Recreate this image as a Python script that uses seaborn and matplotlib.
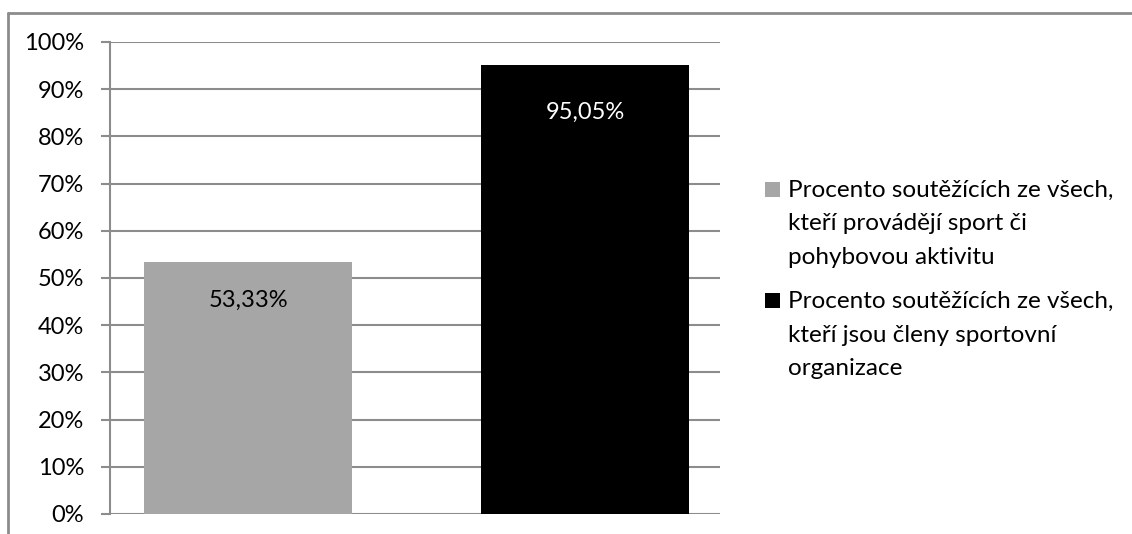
import matplotlib
matplotlib.use("Agg")
import matplotlib.pyplot as plt
from matplotlib.lines import Line2D
from matplotlib.patches import Rectangle
import seaborn as sns
import pandas as pd

series = [
    "Procento soutěžících ze všech,\nkteří provádějí sport či\npohybovou aktivitu",
    "Procento soutěžících ze všech,\nkteří jsou členy sportovní\norganizace",
]
values = [53.33, 95.05]
value_labels = ["53,33%", "95,05%"]
colors = ["#A6A6A6", "#000000"]
label_colors = ["#000000", "#FFFFFF"]
yticks = [0, 10, 20, 30, 40, 50, 60, 70, 80, 90, 100]

sns.set_theme(style="white")
plt.rcParams["font.family"] = ["Lato", "DejaVu Sans"]

W, H = 1132, 534
fig = plt.figure(figsize=(W / 100, H / 100), dpi=100)
ax = fig.add_axes([110 / W, 1 - 514 / H, (720 - 110) / W, (514 - 42) / H])

df = pd.DataFrame({"serie": series, "hodnota": values})
sns.barplot(data=df, x="serie", y="hodnota", hue="serie", palette=colors,
            width=0.617, dodge=False, legend=False, ax=ax, saturation=1,
            edgecolor="none")

grid_c = "#8C8C8C"
ax.set_ylim(0, 100)
ax.set_xlim(-0.4095, 1.4006)
ax.set_yticks(yticks)
ax.set_yticklabels([f"{t}%" for t in yticks], fontsize=17, color="#000000")
ax.set_xticks([])
ax.set_xlabel("")
ax.set_ylabel("")
for t in yticks:
    ax.axhline(t, color=grid_c, lw=1.5, zorder=0)
for s in ["top", "right", "bottom"]:
    ax.spines[s].set_visible(False)
ax.spines["left"].set_color(grid_c)
ax.spines["left"].set_linewidth(1.5)
ax.tick_params(axis="y", left=True, length=6.5, width=1.5, color=grid_c, pad=12)

offsets = [-38, -47]
for i, (v, lab) in enumerate(zip(values, value_labels)):
    ax.annotate(lab, (i, v), xytext=(0, offsets[i]), textcoords="offset pixels",
                ha="center", va="center", fontsize=17, color=label_colors[i])

# legend: colour square followed by a wrapped label
def fy(px):
    return 1 - px / H

entry_top = [197, 308]
line_step = 33.5
for name, col, base in zip(series, colors, entry_top):
    fig.add_artist(Rectangle((765 / W, fy(base)), 15 / W, 15 / H,
                             transform=fig.transFigure, facecolor=col,
                             edgecolor="none"))
    for k, line in enumerate(name.split("\n")):
        fig.text(788 / W, fy(base + k * line_step), line, ha="left",
                 va="baseline", fontsize=17.5, color="#000000")

# chart frame
fig.add_artist(Line2D([8 / W, 8 / W], [0, fy(12.5)], transform=fig.transFigure,
                      color=grid_c, lw=2))
fig.add_artist(Line2D([8 / W, 1], [fy(12.5), fy(12.5)], transform=fig.transFigure,
                      color=grid_c, lw=2))

fig.savefig("out.png", dpi=100, facecolor="white")
